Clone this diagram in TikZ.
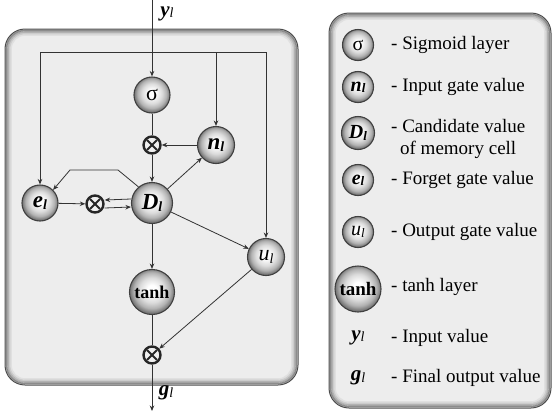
\documentclass[tikz,border=0pt]{standalone}
\usepackage{fontspec}
\setmainfont{Liberation Serif}
\usetikzlibrary{arrows.meta,calc}
\pgfdeclareradialshading{ballshade}{\pgfpoint{0bp}{3bp}}{color(0bp)=(white); color(5bp)=(white); color(14bp)=(black!14); color(20bp)=(black!30); color(25bp)=(black!55); color(50bp)=(black!55)}
\newcommand{\symb}[3]{{\fontsize{#2}{#2}\selectfont\bfseries\itshape #1}{\raisebox{-0.3ex}{\fontsize{#3}{#3}\selectfont\bfseries\itshape l}}}
\newcommand{\symr}[3]{{\fontsize{#2}{#2}\selectfont\bfseries\itshape #1}{\raisebox{-0.3ex}{\fontsize{#3}{#3}\selectfont\itshape l}}}
\tikzset{
  ball/.style={circle, inner sep=0pt, draw=black!75, line width=1.1pt, shading=ballshade},
  mult/.style={circle, minimum size=17pt, inner sep=0pt, draw=black!85, line width=2.4pt, fill=black!6,
    path picture={\draw[line width=2pt,black!85] ($(path picture bounding box.center)+(45:7)$) -- ($(path picture bounding box.center)+(225:7)$);
                  \draw[line width=2pt,black!85] ($(path picture bounding box.center)+(135:7)$) -- ($(path picture bounding box.center)+(315:7)$);}},
  arr/.style={draw=black!80, line width=0.8pt, -{Stealth[length=5.5pt,width=4.5pt]}},
  ln/.style={draw=black!80, line width=0.8pt},
  legtxt/.style={anchor=west, inner sep=0pt, font=\fontsize{19}{22}\selectfont, align=center},
}
\begin{document}
\begin{tikzpicture}[x=1pt,y=-1pt]
\useasboundingbox (0,0) rectangle (554,413);
% panels
\fill[black!7, rounded corners=20pt] (5,29) rectangle (298,385);
\fill[black!7, rounded corners=20pt] (329,13) rectangle (551,408);
\foreach \i/\c in {6/black!12, 4.5/black!20, 3/black!30, 1.5/black!45} {
  \draw[\c, line width=1.6pt, rounded corners={20pt-\i pt}] (5+\i,29+\i) rectangle (298-\i,385-\i);
  \draw[\c, line width=1.6pt, rounded corners={20pt-\i pt}] (329+\i,13+\i) rectangle (551-\i,408-\i);
}
\draw[black!70, line width=1pt, rounded corners=20pt] (5,29) rectangle (298,385);
\draw[black!70, line width=1pt, rounded corners=20pt] (329,13) rectangle (551,408);

% main nodes
\node[ball, minimum size=36pt] (sig) at (152,95) {\fontsize{22}{22}\selectfont σ};
\node[mult] (m1) at (152,145) {};
\node[ball, minimum size=37pt] (n) at (216,145) {\symb{n}{23}{14}};
\node[ball, minimum size=41pt] (D) at (152,203) {\symb{D}{23}{14}};
\node[ball, minimum size=36pt] (e) at (40,203) {\symb{e}{23}{14}};
\node[mult] (m2) at (95,204) {};
\node[ball, minimum size=37pt] (u) at (266,257) {\fontsize{22}{22}\selectfont\itshape u\raisebox{-0.3ex}{\fontsize{14}{14}\selectfont l}};
\node[ball, minimum size=45pt] (tanh) at (152,292) {\fontsize{18}{18}\selectfont\bfseries tanh};
\node[mult] (m3) at (152,355) {};

\node[inner sep=0pt] (ylab) at (167,14) {\symr{y}{21}{14}};
\node[inner sep=0pt] (glab) at (166,393) {\symr{g}{21}{14}};

\coordinate (yin) at (152,0);
\coordinate (gout) at (152,411);
\coordinate (c1) at (40,52);
\coordinate (c2) at (216,52);
\coordinate (c3) at (266,52);
\coordinate (fb1) at (118,170);
\coordinate (fb2) at (70,170);

% connectors
\draw[arr] (yin) -- (sig);
\draw[ln] (c1) -- (c3);
\draw[arr] (c1) -- (e);
\draw[arr] (c2) -- (n);
\draw[arr] (c3) -- (u);
\draw[ln] (sig) -- (m1);
\draw[arr] (n) -- (m1);
\draw[arr] (m1) -- (D);
\draw[arr] (D) -- (n);
\draw[arr] (e) -- (m2);
\draw[arr] ([yshift=4pt]D.west) -- ([yshift=4pt]m2.east);
\draw[arr] ([yshift=-4pt]m2.east) -- ([yshift=-4pt]D.west);
\draw[arr] (D.130) -- (fb1) -- (fb2) -- (e.45);
\draw[arr] (D) -- (tanh);
\draw[arr] (D) -- (u);
\draw[ln] (tanh) -- (m3);
\draw[arr] (u) -- (m3);
\draw[arr] (m3) -- (gout);

% legend
\node[ball, minimum size=31pt] (L1) at (358,45) {\fontsize{20}{20}\selectfont σ};
\node[ball, minimum size=31pt] (L2) at (358,87) {\symb{n}{20}{13}};
\node[ball, minimum size=33pt] (L3) at (358,133) {\symb{D}{20}{13}};
\node[ball, minimum size=31pt] (L4) at (358,180) {\symb{e}{20}{13}};
\node[ball, minimum size=31pt] (L5) at (358,232) {\fontsize{20}{20}\selectfont\itshape u\raisebox{-0.3ex}{\fontsize{13}{13}\selectfont l}};
\node[ball, minimum size=46pt] (L6) at (358,289) {\fontsize{19}{19}\selectfont\bfseries tanh};
\node[inner sep=0pt] (L7) at (358,338) {\symr{y}{21}{14}};
\node[inner sep=0pt] (L8) at (358,378) {\symr{g}{21}{14}};

\node[legtxt] (T1) at (391,45) {- Sigmoid layer};
\node[legtxt] (T2) at (391,87) {- Input gate value};
\node[legtxt] (T3) at (391,139) {- Candidate value\\of memory cell};
\node[legtxt] (T4) at (391,180) {- Forget gate value};
\node[legtxt] (T5) at (391,232) {- Output gate value};
\node[legtxt] (T6) at (391,287) {- tanh layer};
\node[legtxt] (T7) at (391,338) {- Input value};
\node[legtxt] (T8) at (391,378) {- Final output value};
\end{tikzpicture}
\end{document}
